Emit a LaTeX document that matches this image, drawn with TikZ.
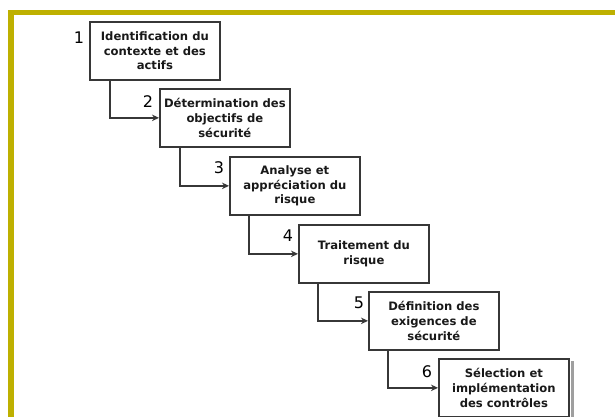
\documentclass[tikz,border=0pt]{standalone}
\usepackage{fontspec}
\setmainfont{DejaVu Sans}
\usetikzlibrary{arrows.meta}
\definecolor{frameolive}{RGB}{190,176,0}
\definecolor{edge}{RGB}{55,55,55}
\tikzset{
  stepbox/.style={draw=edge, line width=1.7pt, fill=white,
    minimum width=130pt, minimum height=58pt, anchor=north west,
    align=center, inner sep=0pt, text=black!90,
    font=\bfseries\fontsize{11.6}{14.8}\selectfont},
  stepnum/.style={font=\fontsize{16}{16}\selectfont, text=black,
    inner sep=0pt},
  link/.style={draw=edge, line width=1.4pt,
    -{Stealth[length=7pt,width=6.5pt]}},
}
\begin{document}
\begin{tikzpicture}[x=1pt,y=-1pt]
  \useasboundingbox (0,0) rectangle (615,417);
  \fill[white] (0,0) rectangle (615,417);
  % olive frame along the top and the left
  \fill[frameolive] (8,10) rectangle (615,15);
  \fill[frameolive] (8,10) rectangle (14,417);

  % process steps
  \node[stepbox] (b1) at (89,21)  {Identification du\\contexte et des\\actifs};
  \node[stepbox] (b2) at (159,88) {Détermination des\\objectifs de\\sécurité};
  \node[stepbox] (b3) at (229,156) {Analyse et\\appréciation du\\risque};
  \node[stepbox] (b4) at (298,224) {Traitement du\\risque};
  \node[stepbox] (b5) at (368,291) {Définition des\\exigences de\\sécurité};
  \node[stepbox] (b6) at (438,358) {Sélection et\\implémentation\\des contrôles};
  \fill[gray!75] ([xshift=0.9pt,yshift=-3pt]b6.north east) rectangle ([xshift=4.5pt]b6.south east);

  % step numbers
  \node[stepnum] (n1) at ([xshift=-10pt,yshift=-17pt]b1.north west) {1};
  \node[stepnum] (n2) at ([xshift=-11pt,yshift=-14pt]b2.north west) {2};
  \node[stepnum] (n3) at ([xshift=-10pt,yshift=-12pt]b3.north west) {3};
  \node[stepnum] (n4) at ([xshift=-10pt,yshift=-12pt]b4.north west) {4};
  \node[stepnum] (n5) at ([xshift=-9pt,yshift=-12pt]b5.north west) {5};
  \node[stepnum] (n6) at ([xshift=-11pt,yshift=-14pt]b6.north west) {6};

  % connectors
  \draw[link] ([xshift=21pt]b1.south west) |- (b2.west);
  \draw[link] ([xshift=21pt]b2.south west) |- (b3.west);
  \draw[link] ([xshift=20pt]b3.south west) |- (b4.west);
  \draw[link] ([xshift=20pt]b4.south west) |- (b5.west);
  \draw[link] ([xshift=20pt]b5.south west) |- (b6.west);
\end{tikzpicture}
\end{document}
